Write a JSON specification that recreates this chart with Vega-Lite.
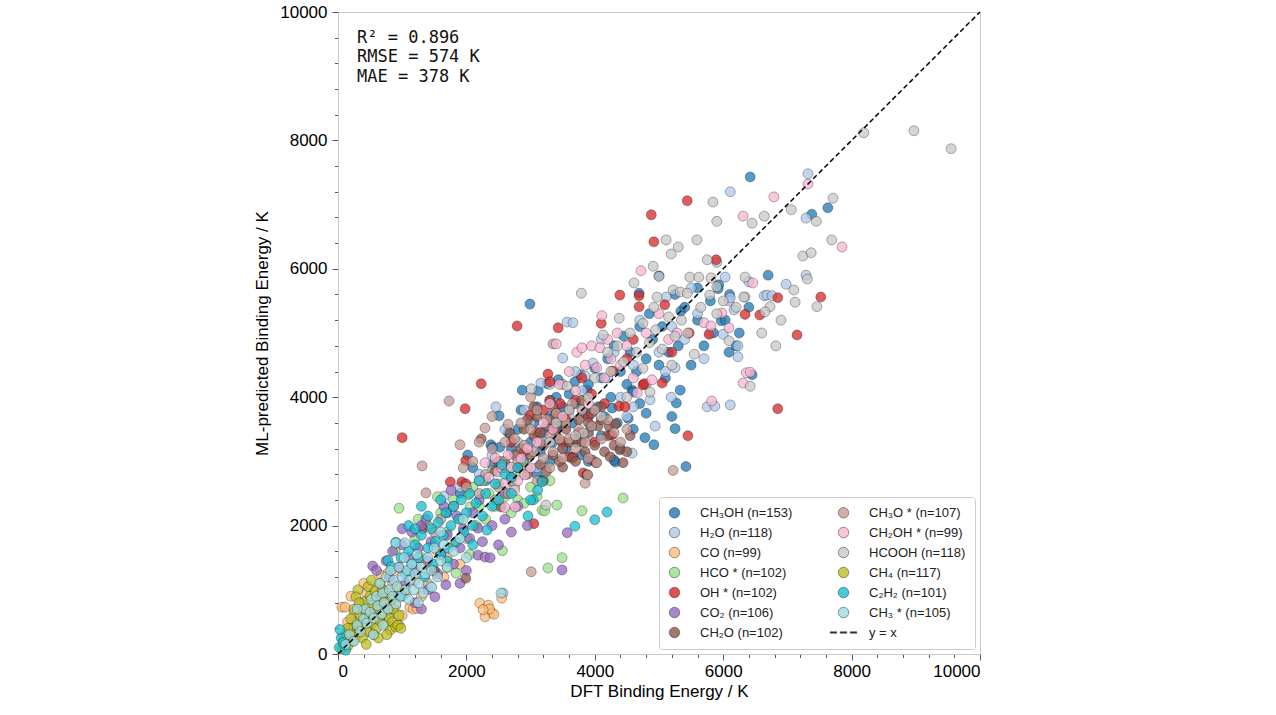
{
  "$schema": "https://vega.github.io/schema/vega-lite/v6.json",
  "description": "ML-predicted vs DFT binding energy by species",
  "width": 642,
  "height": 642,
  "autosize": {"type": "none"},
  "padding": {"left": 338, "top": 12, "right": 296, "bottom": 61},
  "config": {
    "font": "Liberation Sans",
    "view": {"stroke": "#c8c8c8", "strokeWidth": 1},
    "axis": {
      "grid": false,
      "domainColor": "#c8c8c8",
      "tickColor": "#555",
      "labelColor": "#000",
      "titleColor": "#000",
      "labelFont": "Liberation Sans",
      "titleFont": "Liberation Sans",
      "labelFontSize": 17,
      "titleFontSize": 17,
      "titleFontWeight": "normal"
    }
  },
  "encoding": {
    "x": {
      "field": "x", "type": "quantitative",
      "scale": {"domain": [0, 10000], "nice": false},
      "axis": {
        "title": "DFT Binding Energy / K",
        "values": [0,400,800,1200,1600,2000,2400,2800,3200,3600,4000,4400,4800,5200,5600,6000,6400,6800,7200,7600,8000,8400,8800,9200,9600,10000],
        "labelExpr": "datum.value % 2000 == 0 ? format(datum.value, 'd') : ''",
        "tickSize": {"condition": {"test": "datum.value % 2000 == 0", "value": 6}, "value": 3.5},
        "labelPadding": 3,
        "titlePadding": 4
      }
    },
    "y": {
      "field": "y", "type": "quantitative",
      "scale": {"domain": [0, 10000], "nice": false},
      "axis": {
        "title": "ML-predicted Binding Energy / K",
        "values": [0,400,800,1200,1600,2000,2400,2800,3200,3600,4000,4400,4800,5200,5600,6000,6400,6800,7200,7600,8000,8400,8800,9200,9600,10000],
        "labelExpr": "datum.value % 2000 == 0 ? format(datum.value, 'd') : ''",
        "tickSize": {"condition": {"test": "datum.value % 2000 == 0", "value": 6}, "value": 3.5},
        "labelPadding": 5,
        "titlePadding": 8
      }
    }
  },
  "layer": [
    {
      "data": {"values": [
        {"s":"a","x":2020,"y":3100},{"s":"a","x":2380,"y":3260},{"s":"a","x":2410,"y":3220},{"s":"a","x":2510,"y":3710},{"s":"a","x":2520,"y":3220},{"s":"a","x":2850,"y":3800},{"s":"a","x":2870,"y":4110},{"s":"a","x":2990,"y":5450},{"s":"a","x":3100,"y":3850},{"s":"a","x":3120,"y":4100},{"s":"a","x":3160,"y":2710},{"s":"a","x":3260,"y":4210},{"s":"a","x":3430,"y":4270},{"s":"a","x":3690,"y":4240},{"s":"a","x":3720,"y":3300},{"s":"a","x":3880,"y":4110},{"s":"a","x":4270,"y":3830},{"s":"a","x":4320,"y":2990},{"s":"a","x":4300,"y":3020},{"s":"a","x":4520,"y":3670},{"s":"a","x":4580,"y":4110},{"s":"a","x":4600,"y":4080},{"s":"a","x":4690,"y":5620},{"s":"a","x":4780,"y":3370},{"s":"a","x":4800,"y":3750},{"s":"a","x":4920,"y":3260},{"s":"a","x":5000,"y":5890},{"s":"a","x":5250,"y":3510},{"s":"a","x":5270,"y":3910},{"s":"a","x":5330,"y":4110},{"s":"a","x":5340,"y":5340},{"s":"a","x":5420,"y":2920},{"s":"a","x":5930,"y":5750},{"s":"a","x":5920,"y":5690},{"s":"a","x":5970,"y":5190},{"s":"a","x":6030,"y":5200},{"s":"a","x":6090,"y":4700},{"s":"a","x":6250,"y":5000},{"s":"a","x":6420,"y":7430},{"s":"a","x":6450,"y":4350},{"s":"a","x":7380,"y":6850},{"s":"a","x":7630,"y":6950},
        {"s":"a","x":2600,"y":2900},{"s":"a","x":2700,"y":3200},{"s":"a","x":2800,"y":3500},{"s":"a","x":2900,"y":3000},{"s":"a","x":3000,"y":3300},{"s":"a","x":3050,"y":3600},{"s":"a","x":3150,"y":3150},{"s":"a","x":3200,"y":3450},{"s":"a","x":3300,"y":3700},{"s":"a","x":3350,"y":3300},{"s":"a","x":3400,"y":4000},{"s":"a","x":3450,"y":3550},{"s":"a","x":3500,"y":3850},{"s":"a","x":3550,"y":3200},{"s":"a","x":3600,"y":4050},{"s":"a","x":3650,"y":3600},{"s":"a","x":3700,"y":3900},{"s":"a","x":3780,"y":4350},{"s":"a","x":3800,"y":3400},{"s":"a","x":3850,"y":3750},{"s":"a","x":3900,"y":4200},{"s":"a","x":3950,"y":3550},{"s":"a","x":4000,"y":4450},{"s":"a","x":4050,"y":3850},{"s":"a","x":4100,"y":4300},{"s":"a","x":4150,"y":3700},{"s":"a","x":4200,"y":4600},{"s":"a","x":4250,"y":4000},{"s":"a","x":4300,"y":4800},{"s":"a","x":4350,"y":3600},{"s":"a","x":4400,"y":4400},{"s":"a","x":4450,"y":4950},{"s":"a","x":4500,"y":4200},{"s":"a","x":4550,"y":4700},{"s":"a","x":4650,"y":4400},{"s":"a","x":4700,"y":5100},{"s":"a","x":4800,"y":4600},{"s":"a","x":4850,"y":5300},{"s":"a","x":4900,"y":4900},{"s":"a","x":5000,"y":4500},{"s":"a","x":5050,"y":5100},{"s":"a","x":5150,"y":4700},{"s":"a","x":5250,"y":5600},{"s":"a","x":5300,"y":4800},{"s":"a","x":5400,"y":5400},{"s":"a","x":5500,"y":4500},{"s":"a","x":5600,"y":5200},{"s":"a","x":5700,"y":4800},{"s":"a","x":5800,"y":5500},{"s":"a","x":5850,"y":5000},{"s":"a","x":6100,"y":5600},{"s":"a","x":6200,"y":4800},{"s":"a","x":6400,"y":5400},{"s":"a","x":6700,"y":5900},{"s":"a","x":5200,"y":3700},{"s":"a","x":4700,"y":3900},{"s":"a","x":4400,"y":3200},{"s":"a","x":3900,"y":3000},{"s":"a","x":2300,"y":2700},{"s":"a","x":1900,"y":2500},{"s":"a","x":2100,"y":2900},{"s":"a","x":2400,"y":2950},{"s":"a","x":2650,"y":3450},{"s":"a","x":3300,"y":3000},{"s":"a","x":3800,"y":3100},{"s":"a","x":5600,"y":5700},{"s":"a","x":1700,"y":2200},{"s":"a","x":3100,"y":2800},{"s":"a","x":4100,"y":3400},{"s":"a","x":4600,"y":3500},{"s":"a","x":5100,"y":4300},

        {"s":"b","x":1650,"y":2460},{"s":"b","x":2460,"y":3850},{"s":"b","x":2570,"y":950},{"s":"b","x":3160,"y":4220},{"s":"b","x":3500,"y":4610},{"s":"b","x":3570,"y":5170},{"s":"b","x":3660,"y":5160},{"s":"b","x":3850,"y":4330},{"s":"b","x":3970,"y":4530},{"s":"b","x":4580,"y":3130},{"s":"b","x":4600,"y":3850},{"s":"b","x":4860,"y":3960},{"s":"b","x":4940,"y":3550},{"s":"b","x":5110,"y":5560},{"s":"b","x":5190,"y":4000},{"s":"b","x":5250,"y":4460},{"s":"b","x":5750,"y":3850},{"s":"b","x":5870,"y":3860},{"s":"b","x":6030,"y":5870},{"s":"b","x":6000,"y":4980},{"s":"b","x":6090,"y":5500},{"s":"b","x":6110,"y":5550},{"s":"b","x":6110,"y":7200},{"s":"b","x":6110,"y":3880},{"s":"b","x":6170,"y":5360},{"s":"b","x":6230,"y":4800},{"s":"b","x":6230,"y":4630},{"s":"b","x":6640,"y":5580},{"s":"b","x":6680,"y":5590},{"s":"b","x":6760,"y":5580},{"s":"b","x":6980,"y":5760},{"s":"b","x":7290,"y":6790},{"s":"b","x":7290,"y":5900},{"s":"b","x":7320,"y":7480},
        {"s":"b","x":2200,"y":2800},{"s":"b","x":2400,"y":3100},{"s":"b","x":2600,"y":3500},{"s":"b","x":2800,"y":3300},{"s":"b","x":2900,"y":3800},{"s":"b","x":3000,"y":3600},{"s":"b","x":3200,"y":3300},{"s":"b","x":3300,"y":4200},{"s":"b","x":3400,"y":3900},{"s":"b","x":3600,"y":3700},{"s":"b","x":3700,"y":4400},{"s":"b","x":3800,"y":4100},{"s":"b","x":4000,"y":3800},{"s":"b","x":4200,"y":4300},{"s":"b","x":4300,"y":4700},{"s":"b","x":4400,"y":4000},{"s":"b","x":4600,"y":4500},{"s":"b","x":4700,"y":5200},{"s":"b","x":4800,"y":4200},{"s":"b","x":5000,"y":4700},{"s":"b","x":5200,"y":5100},{"s":"b","x":5400,"y":4900},{"s":"b","x":5500,"y":5700},{"s":"b","x":5600,"y":5300},{"s":"b","x":5800,"y":5000},{"s":"b","x":5900,"y":6100},{"s":"b","x":6400,"y":5800},{"s":"b","x":1900,"y":2600},{"s":"b","x":3100,"y":2900},{"s":"b","x":3900,"y":3400},{"s":"b","x":4500,"y":3700},{"s":"b","x":5100,"y":4400},{"s":"b","x":5700,"y":4600},{"s":"b","x":4100,"y":4900},{"s":"b","x":3500,"y":3200},{"s":"b","x":2700,"y":2900},

        {"s":"c","x":60,"y":730},{"s":"c","x":110,"y":730},{"s":"c","x":150,"y":500},{"s":"c","x":200,"y":400},{"s":"c","x":250,"y":650},{"s":"c","x":300,"y":300},{"s":"c","x":350,"y":800},{"s":"c","x":400,"y":500},{"s":"c","x":450,"y":950},{"s":"c","x":500,"y":350},{"s":"c","x":550,"y":700},{"s":"c","x":600,"y":1000},{"s":"c","x":650,"y":550},{"s":"c","x":670,"y":1230},{"s":"c","x":700,"y":850},{"s":"c","x":780,"y":1260},{"s":"c","x":800,"y":650},{"s":"c","x":850,"y":1100},{"s":"c","x":900,"y":750},{"s":"c","x":950,"y":1300},{"s":"c","x":1000,"y":600},{"s":"c","x":1050,"y":950},{"s":"c","x":1120,"y":730},{"s":"c","x":1170,"y":700},{"s":"c","x":1230,"y":710},{"s":"c","x":1200,"y":1150},{"s":"c","x":1300,"y":900},{"s":"c","x":1350,"y":1400},{"s":"c","x":1400,"y":1100},{"s":"c","x":1500,"y":1300},{"s":"c","x":1550,"y":1600},{"s":"c","x":1650,"y":1200},{"s":"c","x":1700,"y":1500},{"s":"c","x":1800,"y":1700},{"s":"c","x":1900,"y":1400},{"s":"c","x":2210,"y":790},{"s":"c","x":2340,"y":760},{"s":"c","x":2400,"y":640},{"s":"c","x":2290,"y":580},{"s":"c","x":2430,"y":620},{"s":"c","x":2360,"y":700},{"s":"c","x":2260,"y":690},{"s":"c","x":2550,"y":870},{"s":"c","x":200,"y":900},{"s":"c","x":400,"y":1100},{"s":"c","x":950,"y":450},{"s":"c","x":1250,"y":1500},

        {"s":"d","x":890,"y":1620},{"s":"d","x":950,"y":2270},{"s":"d","x":1000,"y":1000},{"s":"d","x":1100,"y":1300},{"s":"d","x":1200,"y":1800},{"s":"d","x":1250,"y":2100},{"s":"d","x":1300,"y":1500},{"s":"d","x":1400,"y":2000},{"s":"d","x":1500,"y":1700},{"s":"d","x":1550,"y":2450},{"s":"d","x":1600,"y":2200},{"s":"d","x":1700,"y":1900},{"s":"d","x":1700,"y":1350},{"s":"d","x":1800,"y":2400},{"s":"d","x":1840,"y":1260},{"s":"d","x":1900,"y":2100},{"s":"d","x":2000,"y":1800},{"s":"d","x":2030,"y":2480},{"s":"d","x":2050,"y":1550},{"s":"d","x":2060,"y":2290},{"s":"d","x":2100,"y":2600},{"s":"d","x":2150,"y":2000},{"s":"d","x":2200,"y":2300},{"s":"d","x":2250,"y":2700},{"s":"d","x":2300,"y":2100},{"s":"d","x":2350,"y":2500},{"s":"d","x":2400,"y":2850},{"s":"d","x":2450,"y":2300},{"s":"d","x":2500,"y":2650},{"s":"d","x":2560,"y":1610},{"s":"d","x":2600,"y":2450},{"s":"d","x":2650,"y":2900},{"s":"d","x":2700,"y":2200},{"s":"d","x":2750,"y":2600},{"s":"d","x":2800,"y":2400},{"s":"d","x":2850,"y":2800},{"s":"d","x":2900,"y":2350},{"s":"d","x":2900,"y":2950},{"s":"d","x":3000,"y":2600},{"s":"d","x":3100,"y":2450},{"s":"d","x":3180,"y":2240},{"s":"d","x":3220,"y":2230},{"s":"d","x":3270,"y":1340},{"s":"d","x":3300,"y":2700},{"s":"d","x":3410,"y":2320},{"s":"d","x":3490,"y":1500},{"s":"d","x":3800,"y":2230},{"s":"d","x":4440,"y":2430},

        {"s":"e","x":1000,"y":3370},{"s":"e","x":1320,"y":1950},{"s":"e","x":1750,"y":2680},{"s":"e","x":1930,"y":2680},{"s":"e","x":1990,"y":2650},{"s":"e","x":1990,"y":3010},{"s":"e","x":1980,"y":3820},{"s":"e","x":2230,"y":4210},{"s":"e","x":2790,"y":5110},{"s":"e","x":2990,"y":3720},{"s":"e","x":3050,"y":2030},{"s":"e","x":3200,"y":3800},{"s":"e","x":3270,"y":4360},{"s":"e","x":3300,"y":4240},{"s":"e","x":3300,"y":3950},{"s":"e","x":3350,"y":3500},{"s":"e","x":3400,"y":3750},{"s":"e","x":3430,"y":5080},{"s":"e","x":3460,"y":3900},{"s":"e","x":3500,"y":3300},{"s":"e","x":3550,"y":3650},{"s":"e","x":3610,"y":3070},{"s":"e","x":3660,"y":3070},{"s":"e","x":3700,"y":3950},{"s":"e","x":3750,"y":3450},{"s":"e","x":3820,"y":2820},{"s":"e","x":3880,"y":2790},{"s":"e","x":3900,"y":3700},{"s":"e","x":3950,"y":4050},{"s":"e","x":4000,"y":3300},{"s":"e","x":4100,"y":5150},{"s":"e","x":4150,"y":3900},{"s":"e","x":4240,"y":3410},{"s":"e","x":4270,"y":3410},{"s":"e","x":4280,"y":4410},{"s":"e","x":4380,"y":3860},{"s":"e","x":4390,"y":5590},{"s":"e","x":4470,"y":3850},{"s":"e","x":4500,"y":4600},{"s":"e","x":4690,"y":5580},{"s":"e","x":4690,"y":5410},{"s":"e","x":4750,"y":4190},{"s":"e","x":4770,"y":4210},{"s":"e","x":4880,"y":6840},{"s":"e","x":4920,"y":6420},{"s":"e","x":5050,"y":4220},{"s":"e","x":5090,"y":5440},{"s":"e","x":5200,"y":4700},{"s":"e","x":5440,"y":7060},{"s":"e","x":5450,"y":3400},{"s":"e","x":5470,"y":5000},{"s":"e","x":5780,"y":4980},{"s":"e","x":5890,"y":6140},{"s":"e","x":6340,"y":5290},{"s":"e","x":6570,"y":5280},{"s":"e","x":6850,"y":5550},{"s":"e","x":6850,"y":3820},{"s":"e","x":7150,"y":4970},{"s":"e","x":7520,"y":5560},{"s":"e","x":2500,"y":3000},{"s":"e","x":2700,"y":3300},{"s":"e","x":3100,"y":3450},{"s":"e","x":4600,"y":4900},{"s":"e","x":3800,"y":4300},{"s":"e","x":2900,"y":3150},

        {"s":"f","x":540,"y":1370},{"s":"f","x":600,"y":1300},{"s":"f","x":700,"y":1000},{"s":"f","x":750,"y":1450},{"s":"f","x":800,"y":1200},{"s":"f","x":850,"y":1600},{"s":"f","x":900,"y":900},{"s":"f","x":950,"y":1350},{"s":"f","x":1000,"y":1700},{"s":"f","x":1050,"y":1100},{"s":"f","x":1100,"y":1500},{"s":"f","x":1150,"y":1900},{"s":"f","x":1200,"y":1300},{"s":"f","x":1250,"y":1650},{"s":"f","x":1300,"y":2000},{"s":"f","x":1370,"y":2100},{"s":"f","x":1400,"y":1450},{"s":"f","x":1450,"y":1750},{"s":"f","x":1510,"y":890},{"s":"f","x":1550,"y":1250},{"s":"f","x":1600,"y":1550},{"s":"f","x":1680,"y":1080},{"s":"f","x":1700,"y":1850},{"s":"f","x":1760,"y":2550},{"s":"f","x":1800,"y":1400},{"s":"f","x":1850,"y":2150},{"s":"f","x":1900,"y":1650},{"s":"f","x":1950,"y":1950},{"s":"f","x":2000,"y":1300},{"s":"f","x":2050,"y":1800},{"s":"f","x":2100,"y":2200},{"s":"f","x":2180,"y":1960},{"s":"f","x":2180,"y":1540},{"s":"f","x":2250,"y":1750},{"s":"f","x":2290,"y":1510},{"s":"f","x":2370,"y":1500},{"s":"f","x":2400,"y":2000},{"s":"f","x":2500,"y":1700},{"s":"f","x":2600,"y":2100},{"s":"f","x":2700,"y":1900},{"s":"f","x":3490,"y":1310},{"s":"f","x":3570,"y":1890},{"s":"f","x":1200,"y":800},{"s":"f","x":1400,"y":1000},{"s":"f","x":1000,"y":1950},{"s":"f","x":2800,"y":2300},{"s":"f","x":1650,"y":2300},{"s":"f","x":2200,"y":2400},{"s":"f","x":2950,"y":2000},{"s":"f","x":1900,"y":1100},{"s":"f","x":1300,"y":700},{"s":"f","x":2600,"y":2500},

        {"s":"g","x":1500,"y":1300},{"s":"g","x":1990,"y":1180},{"s":"g","x":2230,"y":3350},{"s":"g","x":2540,"y":2290},{"s":"g","x":2680,"y":3440},{"s":"g","x":2800,"y":2900},{"s":"g","x":2850,"y":3200},{"s":"g","x":2900,"y":3500},{"s":"g","x":2950,"y":2800},{"s":"g","x":3000,"y":3100},{"s":"g","x":3050,"y":3400},{"s":"g","x":3100,"y":3700},{"s":"g","x":3150,"y":2950},{"s":"g","x":3200,"y":3250},{"s":"g","x":3250,"y":3550},{"s":"g","x":3300,"y":3950},{"s":"g","x":3350,"y":3850},{"s":"g","x":3350,"y":3100},{"s":"g","x":3400,"y":3400},{"s":"g","x":3450,"y":3700},{"s":"g","x":3500,"y":2910},{"s":"g","x":3500,"y":3200},{"s":"g","x":3550,"y":3500},{"s":"g","x":3600,"y":3800},{"s":"g","x":3650,"y":3050},{"s":"g","x":3700,"y":3350},{"s":"g","x":3750,"y":3650},{"s":"g","x":3800,"y":3950},{"s":"g","x":3850,"y":3150},{"s":"g","x":3880,"y":2790},{"s":"g","x":3900,"y":3450},{"s":"g","x":3950,"y":3750},{"s":"g","x":3960,"y":3020},{"s":"g","x":4000,"y":3250},{"s":"g","x":4020,"y":2980},{"s":"g","x":4050,"y":3550},{"s":"g","x":4100,"y":3850},{"s":"g","x":4150,"y":3150},{"s":"g","x":4200,"y":3400},{"s":"g","x":4220,"y":3550},{"s":"g","x":4240,"y":3070},{"s":"g","x":4300,"y":3250},{"s":"g","x":4320,"y":3580},{"s":"g","x":4390,"y":3180},{"s":"g","x":4440,"y":2980},{"s":"g","x":4500,"y":3150},{"s":"g","x":4550,"y":3400},{"s":"g","x":2750,"y":3100},{"s":"g","x":2700,"y":2750},{"s":"g","x":2600,"y":3000},{"s":"g","x":2950,"y":3650},{"s":"g","x":3150,"y":3450},{"s":"g","x":3250,"y":2850},{"s":"g","x":3450,"y":3000},{"s":"g","x":3600,"y":3300},{"s":"g","x":3700,"y":3000},{"s":"g","x":3300,"y":3650},{"s":"g","x":3900,"y":3600},{"s":"g","x":4100,"y":3650},{"s":"g","x":3050,"y":3850},{"s":"g","x":3400,"y":3550},{"s":"g","x":3800,"y":3300},{"s":"g","x":2450,"y":2850},{"s":"g","x":3200,"y":2700},

        {"s":"h","x":1310,"y":2930},{"s":"h","x":1370,"y":2510},{"s":"h","x":1500,"y":1900},{"s":"h","x":1730,"y":3940},{"s":"h","x":1900,"y":3260},{"s":"h","x":2290,"y":3520},{"s":"h","x":2650,"y":3580},{"s":"h","x":3010,"y":1280},{"s":"h","x":3350,"y":4830},{"s":"h","x":3850,"y":2660},{"s":"h","x":3890,"y":2790},{"s":"h","x":4030,"y":2980},{"s":"h","x":5220,"y":2860},{"s":"h","x":1800,"y":2300},{"s":"h","x":2000,"y":2600},{"s":"h","x":2100,"y":3000},{"s":"h","x":2200,"y":2500},{"s":"h","x":2300,"y":2800},{"s":"h","x":2400,"y":3200},{"s":"h","x":2500,"y":2600},{"s":"h","x":2550,"y":3000},{"s":"h","x":2600,"y":3300},{"s":"h","x":2700,"y":2700},{"s":"h","x":2750,"y":3350},{"s":"h","x":2800,"y":3000},{"s":"h","x":2850,"y":3600},{"s":"h","x":2900,"y":3250},{"s":"h","x":2950,"y":2900},{"s":"h","x":3000,"y":3500},{"s":"h","x":3050,"y":3150},{"s":"h","x":3100,"y":3800},{"s":"h","x":3150,"y":3300},{"s":"h","x":3200,"y":3050},{"s":"h","x":3250,"y":3650},{"s":"h","x":3300,"y":3400},{"s":"h","x":3350,"y":3150},{"s":"h","x":3400,"y":3750},{"s":"h","x":3450,"y":3350},{"s":"h","x":3500,"y":3050},{"s":"h","x":3550,"y":3600},{"s":"h","x":3600,"y":3350},{"s":"h","x":3650,"y":3900},{"s":"h","x":3700,"y":3200},{"s":"h","x":3750,"y":3500},{"s":"h","x":3800,"y":3800},{"s":"h","x":3850,"y":3300},{"s":"h","x":3900,"y":3050},{"s":"h","x":3950,"y":3550},{"s":"h","x":4000,"y":3800},{"s":"h","x":4100,"y":3350},{"s":"h","x":4200,"y":3650},{"s":"h","x":4300,"y":3450},{"s":"h","x":4400,"y":3300},{"s":"h","x":4500,"y":3500},{"s":"h","x":2450,"y":2400},{"s":"h","x":2650,"y":2500},{"s":"h","x":3100,"y":2700},{"s":"h","x":3300,"y":2900},{"s":"h","x":1950,"y":2900},{"s":"h","x":2200,"y":3300},{"s":"h","x":2400,"y":3700},{"s":"h","x":1600,"y":2100},{"s":"h","x":3000,"y":4000},{"s":"h","x":3500,"y":4200},

        {"s":"i","x":2290,"y":2980},{"s":"i","x":2490,"y":2840},{"s":"i","x":2700,"y":2910},{"s":"i","x":2910,"y":2790},{"s":"i","x":2600,"y":2660},{"s":"i","x":2600,"y":2280},{"s":"i","x":2760,"y":2290},{"s":"i","x":2200,"y":2700},{"s":"i","x":2350,"y":2750},{"s":"i","x":2450,"y":3050},{"s":"i","x":2550,"y":2900},{"s":"i","x":2650,"y":3100},{"s":"i","x":2800,"y":2700},{"s":"i","x":2850,"y":3050},{"s":"i","x":2950,"y":3200},{"s":"i","x":3000,"y":2900},{"s":"i","x":3100,"y":3300},{"s":"i","x":3200,"y":3600},{"s":"i","x":3300,"y":3900},{"s":"i","x":3400,"y":4830},{"s":"i","x":3450,"y":4200},{"s":"i","x":3500,"y":3700},{"s":"i","x":3600,"y":4400},{"s":"i","x":3720,"y":4700},{"s":"i","x":3800,"y":4770},{"s":"i","x":3700,"y":4100},{"s":"i","x":3850,"y":4500},{"s":"i","x":3900,"y":3900},{"s":"i","x":3950,"y":4800},{"s":"i","x":4030,"y":4460},{"s":"i","x":4080,"y":4770},{"s":"i","x":4110,"y":5270},{"s":"i","x":4150,"y":4300},{"s":"i","x":4200,"y":4900},{"s":"i","x":4250,"y":4600},{"s":"i","x":4350,"y":5000},{"s":"i","x":4400,"y":4500},{"s":"i","x":4500,"y":4800},{"s":"i","x":4660,"y":4070},{"s":"i","x":4720,"y":5970},{"s":"i","x":4800,"y":5000},{"s":"i","x":4890,"y":4270},{"s":"i","x":5000,"y":5300},{"s":"i","x":5150,"y":4900},{"s":"i","x":5280,"y":5000},{"s":"i","x":5700,"y":5160},{"s":"i","x":5810,"y":5110},{"s":"i","x":5820,"y":3940},{"s":"i","x":5980,"y":5310},{"s":"i","x":6090,"y":5080},{"s":"i","x":6310,"y":6820},{"s":"i","x":6310,"y":4220},{"s":"i","x":6360,"y":4380},{"s":"i","x":6420,"y":4390},{"s":"i","x":6460,"y":5780},{"s":"i","x":6790,"y":7120},{"s":"i","x":7320,"y":7320},{"s":"i","x":7850,"y":6340},{"s":"i","x":4600,"y":4300},{"s":"i","x":3350,"y":3500},{"s":"i","x":2750,"y":2550},

        {"s":"j","x":8190,"y":8120},{"s":"j","x":8970,"y":8150},{"s":"j","x":9550,"y":7870},{"s":"j","x":5840,"y":7040},{"s":"j","x":5900,"y":6740},{"s":"j","x":6450,"y":6710},{"s":"j","x":5110,"y":6450},{"s":"j","x":5590,"y":6450},{"s":"j","x":5300,"y":6340},{"s":"j","x":5190,"y":6230},{"s":"j","x":5750,"y":6140},{"s":"j","x":4910,"y":6040},{"s":"j","x":5480,"y":5870},{"s":"j","x":5620,"y":5870},{"s":"j","x":4610,"y":5780},{"s":"j","x":6340,"y":5870},{"s":"j","x":5810,"y":5860},{"s":"j","x":3790,"y":5620},{"s":"j","x":4970,"y":5560},{"s":"j","x":5220,"y":5670},{"s":"j","x":5330,"y":5640},{"s":"j","x":5440,"y":5620},{"s":"j","x":5790,"y":5590},{"s":"j","x":6340,"y":5560},{"s":"j","x":7710,"y":7100},{"s":"j","x":7060,"y":6920},{"s":"j","x":6640,"y":6820},{"s":"j","x":7450,"y":6740},{"s":"j","x":7690,"y":6450},{"s":"j","x":7240,"y":6200},{"s":"j","x":7370,"y":6250},{"s":"j","x":5900,"y":5720},{"s":"j","x":7100,"y":5670},{"s":"j","x":7310,"y":5840},{"s":"j","x":6320,"y":5560},{"s":"j","x":7120,"y":5480},{"s":"j","x":7460,"y":5410},{"s":"j","x":6730,"y":5410},{"s":"j","x":6650,"y":5330},{"s":"j","x":6090,"y":4880},{"s":"j","x":6820,"y":4800},{"s":"j","x":6420,"y":4170},{"s":"j","x":5550,"y":4670},{"s":"j","x":3240,"y":2320},{"s":"j","x":3010,"y":4130},{"s":"j","x":4860,"y":4080},{"s":"j","x":4130,"y":4970},{"s":"j","x":4380,"y":5230},{"s":"j","x":4920,"y":5400},{"s":"j","x":5000,"y":5880},{"s":"j","x":3570,"y":4170},{"s":"j","x":3820,"y":3440},
        {"s":"j","x":4250,"y":4400},{"s":"j","x":4350,"y":4800},{"s":"j","x":4450,"y":4550},{"s":"j","x":4550,"y":5000},{"s":"j","x":4650,"y":4700},{"s":"j","x":4750,"y":5150},{"s":"j","x":4850,"y":4850},{"s":"j","x":4950,"y":5050},{"s":"j","x":5050,"y":4750},{"s":"j","x":5150,"y":5250},{"s":"j","x":5250,"y":4950},{"s":"j","x":5350,"y":5200},{"s":"j","x":5450,"y":5000},{"s":"j","x":5650,"y":5400},{"s":"j","x":5900,"y":5300},{"s":"j","x":6000,"y":5500},{"s":"j","x":6200,"y":5400},{"s":"j","x":3900,"y":4000},{"s":"j","x":4000,"y":4300},{"s":"j","x":4100,"y":3700},{"s":"j","x":3600,"y":3800},{"s":"j","x":3400,"y":3600},{"s":"j","x":3700,"y":3400},{"s":"j","x":4500,"y":4000},{"s":"j","x":4200,"y":4700},{"s":"j","x":6600,"y":5000},{"s":"j","x":6900,"y":5200},{"s":"j","x":5200,"y":4500},{"s":"j","x":3300,"y":3300},{"s":"j","x":4750,"y":4450},

        {"s":"k","x":60,"y":80},{"s":"k","x":100,"y":150},{"s":"k","x":150,"y":120},{"s":"k","x":180,"y":250},{"s":"k","x":200,"y":330},{"s":"k","x":230,"y":200},{"s":"k","x":250,"y":420},{"s":"k","x":270,"y":300},{"s":"k","x":300,"y":500},{"s":"k","x":310,"y":1000},{"s":"k","x":280,"y":890},{"s":"k","x":330,"y":380},{"s":"k","x":350,"y":600},{"s":"k","x":370,"y":450},{"s":"k","x":400,"y":700},{"s":"k","x":420,"y":550},{"s":"k","x":430,"y":820},{"s":"k","x":450,"y":350},{"s":"k","x":470,"y":1050},{"s":"k","x":480,"y":650},{"s":"k","x":500,"y":900},{"s":"k","x":520,"y":480},{"s":"k","x":540,"y":760},{"s":"k","x":560,"y":620},{"s":"k","x":580,"y":980},{"s":"k","x":600,"y":400},{"s":"k","x":610,"y":830},{"s":"k","x":630,"y":700},{"s":"k","x":650,"y":520},{"s":"k","x":660,"y":1100},{"s":"k","x":680,"y":900},{"s":"k","x":700,"y":620},{"s":"k","x":720,"y":780},{"s":"k","x":740,"y":470},{"s":"k","x":760,"y":950},{"s":"k","x":780,"y":680},{"s":"k","x":800,"y":560},{"s":"k","x":810,"y":370},{"s":"k","x":820,"y":820},{"s":"k","x":850,"y":500},{"s":"k","x":860,"y":700},{"s":"k","x":900,"y":420},{"s":"k","x":930,"y":450},{"s":"k","x":950,"y":600},{"s":"k","x":980,"y":400},{"s":"k","x":380,"y":250},{"s":"k","x":440,"y":150},{"s":"k","x":200,"y":550},{"s":"k","x":150,"y":400},{"s":"k","x":120,"y":300},{"s":"k","x":90,"y":220},{"s":"k","x":250,"y":700},{"s":"k","x":330,"y":800},{"s":"k","x":520,"y":1150},{"s":"k","x":690,"y":1000},{"s":"k","x":560,"y":300},{"s":"k","x":630,"y":250},{"s":"k","x":760,"y":300},{"s":"k","x":880,"y":880},{"s":"k","x":950,"y":1020},

        {"s":"l","x":20,"y":100},{"s":"l","x":50,"y":250},{"s":"l","x":80,"y":180},{"s":"l","x":30,"y":380},{"s":"l","x":120,"y":60},{"s":"l","x":780,"y":1460},{"s":"l","x":830,"y":1360},{"s":"l","x":900,"y":1740},{"s":"l","x":980,"y":1500},{"s":"l","x":1050,"y":1250},{"s":"l","x":1100,"y":1600},{"s":"l","x":1150,"y":1400},{"s":"l","x":1200,"y":1700},{"s":"l","x":1250,"y":1500},{"s":"l","x":1300,"y":1850},{"s":"l","x":1350,"y":1200},{"s":"l","x":1400,"y":1650},{"s":"l","x":1450,"y":1950},{"s":"l","x":1480,"y":1400},{"s":"l","x":1520,"y":1750},{"s":"l","x":1560,"y":2050},{"s":"l","x":1600,"y":1550},{"s":"l","x":1640,"y":1850},{"s":"l","x":1680,"y":2200},{"s":"l","x":1720,"y":1650},{"s":"l","x":1760,"y":2000},{"s":"l","x":1800,"y":2300},{"s":"l","x":1840,"y":1750},{"s":"l","x":1880,"y":2100},{"s":"l","x":1920,"y":2400},{"s":"l","x":1960,"y":1900},{"s":"l","x":2000,"y":2200},{"s":"l","x":2050,"y":2500},{"s":"l","x":2100,"y":2000},{"s":"l","x":2150,"y":2350},{"s":"l","x":2200,"y":2700},{"s":"l","x":2250,"y":2150},{"s":"l","x":2300,"y":2500},{"s":"l","x":2320,"y":1930},{"s":"l","x":2400,"y":2300},{"s":"l","x":2450,"y":2650},{"s":"l","x":2500,"y":2400},{"s":"l","x":2600,"y":2800},{"s":"l","x":2700,"y":2500},{"s":"l","x":2800,"y":2900},{"s":"l","x":2960,"y":2150},{"s":"l","x":3040,"y":2400},{"s":"l","x":3110,"y":2550},{"s":"l","x":3180,"y":2680},{"s":"l","x":3690,"y":1990},{"s":"l","x":4000,"y":2090},{"s":"l","x":4190,"y":2210},{"s":"l","x":1100,"y":2000},{"s":"l","x":1300,"y":2300},{"s":"l","x":1000,"y":900},{"s":"l","x":1600,"y":2400},{"s":"l","x":2100,"y":1700},{"s":"l","x":1700,"y":1450},{"s":"l","x":2550,"y":2950},{"s":"l","x":1200,"y":1950},{"s":"l","x":1400,"y":2150},{"s":"l","x":2700,"y":2750},{"s":"l","x":3000,"y":2400},

        {"s":"m","x":120,"y":150},{"s":"m","x":180,"y":300},{"s":"m","x":250,"y":200},{"s":"m","x":300,"y":450},{"s":"m","x":350,"y":350},{"s":"m","x":400,"y":550},{"s":"m","x":420,"y":700},{"s":"m","x":450,"y":480},{"s":"m","x":500,"y":650},{"s":"m","x":520,"y":850},{"s":"m","x":560,"y":560},{"s":"m","x":600,"y":900},{"s":"m","x":620,"y":750},{"s":"m","x":650,"y":1100},{"s":"m","x":680,"y":620},{"s":"m","x":700,"y":950},{"s":"m","x":720,"y":800},{"s":"m","x":750,"y":1200},{"s":"m","x":780,"y":700},{"s":"m","x":800,"y":1000},{"s":"m","x":820,"y":1300},{"s":"m","x":850,"y":900},{"s":"m","x":870,"y":1150},{"s":"m","x":900,"y":780},{"s":"m","x":920,"y":1050},{"s":"m","x":950,"y":1350},{"s":"m","x":980,"y":900},{"s":"m","x":1000,"y":1200},{"s":"m","x":1030,"y":1500},{"s":"m","x":1050,"y":1000},{"s":"m","x":1080,"y":1300},{"s":"m","x":1100,"y":850},{"s":"m","x":1120,"y":1150},{"s":"m","x":1150,"y":1400},{"s":"m","x":1180,"y":1000},{"s":"m","x":1200,"y":1250},{"s":"m","x":1230,"y":1550},{"s":"m","x":1260,"y":1100},{"s":"m","x":1300,"y":1350},{"s":"m","x":1330,"y":950},{"s":"m","x":1360,"y":1250},{"s":"m","x":1400,"y":1500},{"s":"m","x":1440,"y":1050},{"s":"m","x":1460,"y":1300},{"s":"m","x":1500,"y":1650},{"s":"m","x":1550,"y":1200},{"s":"m","x":1600,"y":1450},{"s":"m","x":1650,"y":1700},{"s":"m","x":1700,"y":1350},{"s":"m","x":1800,"y":1600},{"s":"m","x":1900,"y":1800},{"s":"m","x":2000,"y":1500},{"s":"m","x":900,"y":1730},{"s":"m","x":1040,"y":1730},{"s":"m","x":2540,"y":950},{"s":"m","x":1460,"y":1040},{"s":"m","x":700,"y":450},{"s":"m","x":550,"y":300},{"s":"m","x":1250,"y":800},{"s":"m","x":1600,"y":1900},{"s":"m","x":1950,"y":2100},{"s":"m","x":300,"y":700}
      ]},
      "mark": {"type": "point", "filled": true, "size": 100, "fillOpacity": 0.75, "stroke": "#000", "strokeWidth": 0.5, "strokeOpacity": 0.6},
      "encoding": {
        "color": {
          "field": "s", "type": "nominal",
          "scale": {
            "domain": ["a","b","c","d","e","f","g","h","i","j","k","l","m","z"],
            "range": ["#1f77b4","#aec7e8","#ffbb78","#98df8a","#d62728","#9467bd","#8c564b","#c49c94","#f7b6d2","#c7c7c7","#bcbd22","#17becf","#9edae5","#000000"]
          },
          "legend": {
            "title": null,
            "orient": "bottom-right",
            "offset": 5,
            "columns": 2,
            "columnPadding": 36,
            "rowPadding": 6,
            "padding": 9,
            "fillColor": "white",
            "strokeColor": "#cccccc",
            "cornerRadius": 3,
            "labelFont": "Liberation Sans",
            "labelFontSize": 13,
            "labelColor": "#222",
            "labelOffset": 19,
            "labelLimit": 200,
            "symbolSize": 110,
            "symbolOpacity": 0.8,
            "symbolStrokeColor": "#333",
            "symbolStrokeWidth": 0.5,
            "labelExpr": "datum.label=='a'?'CH₃OH (n=153)':datum.label=='b'?'H₂O (n=118)':datum.label=='c'?'CO (n=99)':datum.label=='d'?'HCO * (n=102)':datum.label=='e'?'OH * (n=102)':datum.label=='f'?'CO₂ (n=106)':datum.label=='g'?'CH₂O (n=102)':datum.label=='h'?'CH₃O * (n=107)':datum.label=='i'?'CH₂OH * (n=99)':datum.label=='j'?'HCOOH (n=118)':datum.label=='k'?'CH₄ (n=117)':datum.label=='l'?'C₂H₂ (n=101)':datum.label=='m'?'CH₃ * (n=105)':'y = x'"
          }
        },
        "shape": {
          "field": "s", "type": "nominal",
          "scale": {
            "domain": ["a","b","c","d","e","f","g","h","i","j","k","l","m","z"],
            "range": ["circle","circle","circle","circle","circle","circle","circle","circle","circle","circle","circle","circle","circle","M-2.53,-0.14H-1.29V0.14H-2.53Z M-0.62,-0.14H0.62V0.14H-0.62Z M1.29,-0.14H2.53V0.14H1.29Z"]
          }
        }
      }
    },
    {
      "data": {"values": [{"x": 0, "y": 0}, {"x": 10000, "y": 10000}]},
      "mark": {"type": "line", "color": "#000", "strokeDash": [5, 3], "strokeWidth": 1.5},
      "encoding": {}
    },
    {
      "data": {"values": [
        {"t": "R² = 0.896", "x": 296, "y": 9600},
        {"t": "RMSE = 574 K", "x": 296, "y": 9300},
        {"t": "MAE = 378 K", "x": 296, "y": 8990}
      ]},
      "mark": {"type": "text", "font": "DejaVu Sans Mono", "fontSize": 17, "align": "left", "baseline": "middle", "color": "#111"},
      "encoding": {"text": {"field": "t"}}
    }
  ]
}
